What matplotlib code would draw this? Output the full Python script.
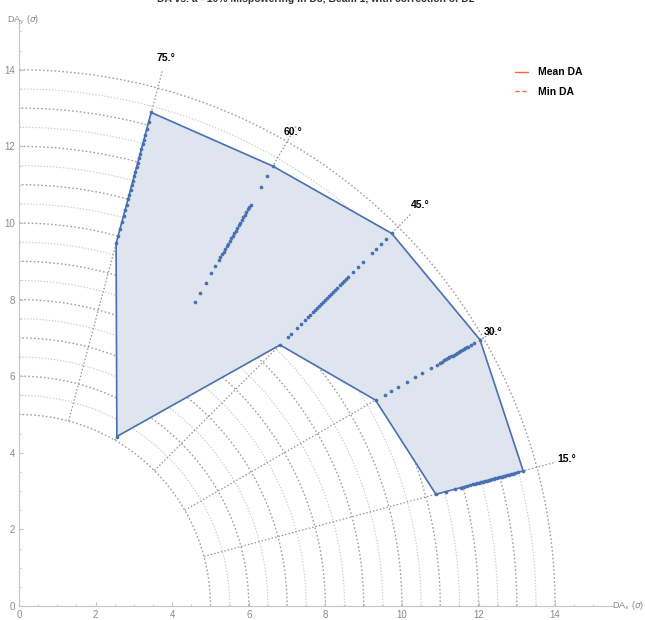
import numpy as np
import matplotlib

matplotlib.use("Agg")
import matplotlib.pyplot as plt
from matplotlib.lines import Line2D

plt.rcParams["font.family"] = ["Liberation Sans", "DejaVu Sans"]

# scan angles (degrees) and dynamic aperture per seed (sigma)
angles = [15, 30, 45, 60, 75]
da_15 = [11.27, 11.55, 11.78, 11.95, 12.04, 12.12, 12.20, 12.26, 12.33, 12.38,
         12.44, 12.50, 12.55, 12.60, 12.65, 12.70, 12.74, 12.79, 12.84, 12.88,
         12.93, 12.97, 13.02, 13.06, 13.10, 13.15, 13.20, 13.25, 13.30, 13.36,
         13.42, 13.50, 13.63]
da_30 = [10.75, 11.03, 11.23, 11.42, 11.71, 11.94, 12.15, 12.41, 12.60, 12.70,
         12.76, 12.82, 12.88, 12.93, 12.98, 13.03, 13.08, 13.12, 13.17, 13.22,
         13.27, 13.31, 13.36, 13.41, 13.46, 13.50, 13.54, 13.62, 13.72, 13.90]
da_45 = [9.64, 9.92, 10.03, 10.25, 10.42, 10.56, 10.68, 10.76, 10.84, 10.92,
         11.00, 11.08, 11.15, 11.22, 11.30, 11.38, 11.45, 11.52, 11.60, 11.68,
         11.76, 11.84, 11.92, 12.00, 12.08, 12.16, 12.34, 12.52, 12.71, 13.02,
         13.20, 13.37, 13.54, 13.76]
da_60 = [5.11, 9.18, 9.44, 9.74, 10.04, 10.25, 10.43, 10.52, 10.60, 10.68,
         10.76, 10.84, 10.92, 11.00, 11.08, 11.16, 11.24, 11.32, 11.40, 11.48,
         11.56, 11.64, 11.72, 11.80, 11.88, 11.96, 12.03, 12.09, 12.64, 12.96,
         13.26]
da_75 = [9.80, 10.00, 10.20, 10.38, 10.55, 10.70, 10.85, 11.00, 11.12, 11.25,
         11.38, 11.50, 11.62, 11.74, 11.86, 11.98, 12.10, 12.22, 12.35, 12.48,
         12.60, 12.74, 12.90, 13.08, 13.34]
da_seeds = [da_15, da_30, da_45, da_60, da_75]

ring_radii = np.arange(5.0, 14.01, 0.5)
label_radii = [14.8, 14.3, 14.8, 14.3, 14.8]

BLUE = "#4a70b2"
FILL = "#dfe5ef"
ORANGE = "#f4683a"
TICK = "#8a8a8a"


def polar_xy(r, deg):
    t = np.deg2rad(deg)
    return np.asarray(r) * np.cos(t), np.asarray(r) * np.sin(t)


fig = plt.figure(figsize=(6.45, 6.2), dpi=100)
ax = fig.add_axes([19 / 645, 14 / 620, 593.6 / 645, 586 / 620])

# quarter-circle grid, integer radii a bit darker
phi = np.linspace(0, 90, 300)
for r in ring_radii:
    whole = abs(r - round(r)) < 1e-9
    x, y = polar_xy(r, phi)
    ax.plot(x, y, ls=(0, (1.2, 1.6)), lw=1.0 if whole else 0.8,
            color="#a0a0a0" if whole else "#c8c8c8", zorder=1)

# radial spokes with angle labels
for a, rl in zip(angles, label_radii):
    x, y = polar_xy([5.0, 14.5], a)
    ax.plot(x, y, ls=(0, (1.2, 1.6)), lw=0.9, color="#959595", zorder=1)
    lx, ly = polar_xy(rl, a)
    ax.text(lx, ly, f"{a}.°", ha="center", va="center", fontsize=7.5,
            fontweight="bold", color="black", zorder=5)

# band between best and worst seed
da_max = [max(v) for v in da_seeds]
da_min = [min(v) for v in da_seeds]
ox, oy = polar_xy(da_max[::-1], angles[::-1])
ix, iy = polar_xy(da_min, angles)
px = np.concatenate([ox, ix, ox[:1]])
py = np.concatenate([oy, iy, oy[:1]])
ax.fill(px, py, color=FILL, zorder=2)
ax.plot(px, py, color=BLUE, lw=1.2, zorder=3)

for a, vals in zip(angles, da_seeds):
    x, y = polar_xy(vals, a)
    ax.scatter(x, y, s=7, color=BLUE, linewidths=0, zorder=4)

ax.set_xlim(0, 15.5)
ax.set_ylim(0, 15.3)
for side in ("top", "right"):
    ax.spines[side].set_visible(False)
for side in ("left", "bottom"):
    ax.spines[side].set_color("#c4c4c4")
    ax.spines[side].set_linewidth(0.8)
ax.set_xticks(np.arange(0, 15, 2))
ax.set_yticks(np.arange(0, 15, 2))
ax.set_xticks(np.arange(0, 15.5, 0.5), minor=True)
ax.set_yticks(np.arange(0, 15.5, 0.5), minor=True)
ax.tick_params(which="both", direction="in", color="#c4c4c4", labelcolor=TICK,
               labelsize=7)
ax.tick_params(which="major", length=3, pad=3)
ax.tick_params(which="minor", length=1.5)

fig.text(612 / 645, 1 - 606 / 620, r"DA$_x$ ($\sigma$)", fontsize=6.5,
         color=TICK, va="center", ha="left")
fig.text(7 / 645, 1 - 20 / 620, r"DA$_y$ ($\sigma$)", fontsize=6.5, color=TICK,
         va="center", ha="left")

fig.text(0.49, 1 - 1.5 / 620,
         "DA vs. a - 10% Mispowering in D3, Beam 1, with correction of D2",
         fontsize=7.5, fontweight="bold", color="#333333", ha="center",
         va="baseline")

handles = [Line2D([], [], color=ORANGE, lw=1.0),
           Line2D([], [], color=ORANGE, lw=1.0, ls=(0, (3, 2)))]
leg = ax.legend(handles, ["Mean DA", "Min DA"], loc="upper left",
                bbox_to_anchor=(0.82, 0.935), frameon=False, handlelength=1.2,
                handletextpad=1.0, labelspacing=0.9,
                prop={"weight": "bold", "size": 7.5})

fig.savefig("out.png", dpi=100)
